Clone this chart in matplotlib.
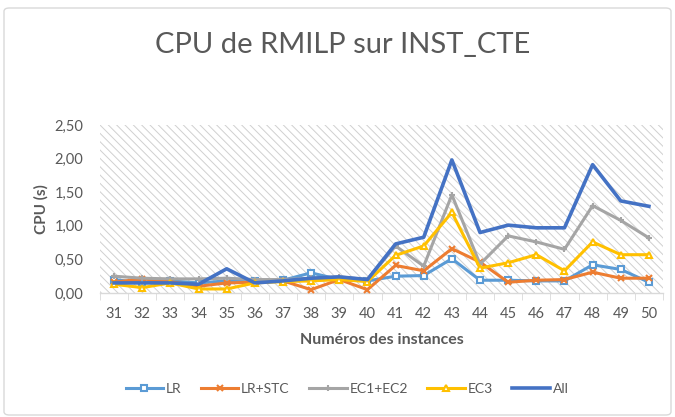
import matplotlib
matplotlib.use("Agg")
import matplotlib.pyplot as plt
from matplotlib.patches import Rectangle, FancyBboxPatch
from matplotlib.ticker import FuncFormatter, FixedLocator

plt.rcParams['font.family'] = ['Lato', 'DejaVu Sans']
plt.rcParams['hatch.linewidth'] = 0.7
plt.rcParams['hatch.color'] = '#d0d0d0'

instances = list(range(31, 51))
lr = [0.20, 0.15, 0.18, 0.15, 0.18, 0.18, 0.19, 0.30, 0.20, 0.18,
      0.25, 0.26, 0.51, 0.19, 0.19, 0.18, 0.18, 0.42, 0.35, 0.16]
lr_stc = [0.16, 0.21, 0.17, 0.10, 0.15, 0.16, 0.18, 0.05, 0.20, 0.05,
          0.41, 0.33, 0.66, 0.46, 0.16, 0.19, 0.20, 0.31, 0.22, 0.22]
ec12 = [0.25, 0.22, 0.21, 0.21, 0.22, 0.20, 0.20, 0.22, 0.24, 0.20,
        0.70, 0.40, 1.46, 0.43, 0.85, 0.76, 0.65, 1.30, 1.08, 0.82]
ec3 = [0.13, 0.08, 0.15, 0.06, 0.06, 0.15, 0.17, 0.18, 0.20, 0.17,
       0.56, 0.70, 1.20, 0.37, 0.45, 0.57, 0.33, 0.76, 0.57, 0.57]
all_ = [0.15, 0.15, 0.15, 0.13, 0.36, 0.15, 0.18, 0.22, 0.24, 0.20,
        0.73, 0.83, 1.98, 0.90, 1.01, 0.97, 0.97, 1.91, 1.37, 1.29]
yticks = [0.0, 0.5, 1.0, 1.5, 2.0, 2.5]

W, H = 675, 417
fig = plt.figure(figsize=(W / 100, H / 100), dpi=100)
fig.patch.set_facecolor('white')
border = FancyBboxPatch((4 / W, 2 / H), (W - 8) / W, (H - 10) / H,
                        boxstyle="round,pad=0,rounding_size=0.008",
                        transform=fig.transFigure, facecolor='none', edgecolor='#d9d9d9', lw=1.0)
fig.patches.append(border)

ax = fig.add_axes([100 / W, 1 - 293 / H, (663 - 100) / W, (293 - 125) / H])
ax.set_facecolor('white')
x = list(range(len(instances)))
ax.add_patch(Rectangle((0, 0), 1, 1, transform=ax.transAxes, facecolor='white',
                       hatch='\\\\\\\\', edgecolor='#d0d0d0', lw=0, zorder=0))

lw = 2.2
ms = 5
ax.plot(x, lr, color='#5B9BD5', lw=lw, marker='s', ms=ms, mfc='white', mec='#5B9BD5', mew=1.5, label='LR', zorder=3)
ax.plot(x, lr_stc, color='#ED7D31', lw=lw, marker='x', ms=ms, mec='#ED7D31', mew=1.5, label='LR+STC', zorder=4)
ax.plot(x, ec12, color='#A5A5A5', lw=lw, marker='+', ms=ms, mec='#A5A5A5', mew=1.5, label='EC1+EC2', zorder=5)
ax.plot(x, ec3, color='#FFC000', lw=lw, marker='^', ms=ms, mfc='white', mec='#FFC000', mew=1.5, label='EC3', zorder=6)
ax.plot(x, all_, color='#4472C4', lw=2.6, label='All', zorder=7)

ax.set_xlim(-0.5, len(instances) - 0.5)
ax.set_ylim(0, 2.5)
ax.set_yticks(yticks)
ax.yaxis.set_major_formatter(FuncFormatter(lambda v, p: f"{v:.2f}".replace('.', ',')))
ax.set_xticks(x)
ax.set_xticklabels([str(i) for i in instances])
ax.xaxis.set_minor_locator(FixedLocator([i - 0.5 for i in range(len(instances) + 1)]))
ax.tick_params(axis='x', which='major', length=0, labelsize=10.5, colors='#595959', pad=10)
ax.tick_params(axis='x', which='minor', length=5, color='#d9d9d9')
ax.tick_params(axis='y', length=0, labelsize=10.5, colors='#595959', pad=12)
for s in ['top', 'right', 'left']:
    ax.spines[s].set_visible(False)
ax.spines['bottom'].set_color('#d9d9d9')
ax.spines['bottom'].set_linewidth(1.0)

ax.set_ylabel('CPU (s)', fontsize=11, fontweight='bold', color='#595959', labelpad=4)
ax.set_xlabel('Numéros des instances', fontsize=11.5, fontweight='bold', color='#595959', labelpad=9)
fig.text(343 / W, 1 - 45 / H, 'CPU de RMILP sur INST_CTE', ha='center', va='center',
         fontsize=21, color='#595959')

fig.legend(loc='center', bbox_to_anchor=(347 / W, 1 - 389 / H), ncol=5, frameon=False,
           fontsize=10, labelcolor='#595959', handlelength=2.7, columnspacing=1.4,
           handletextpad=0.2)

fig.savefig('out.png', dpi=100)
